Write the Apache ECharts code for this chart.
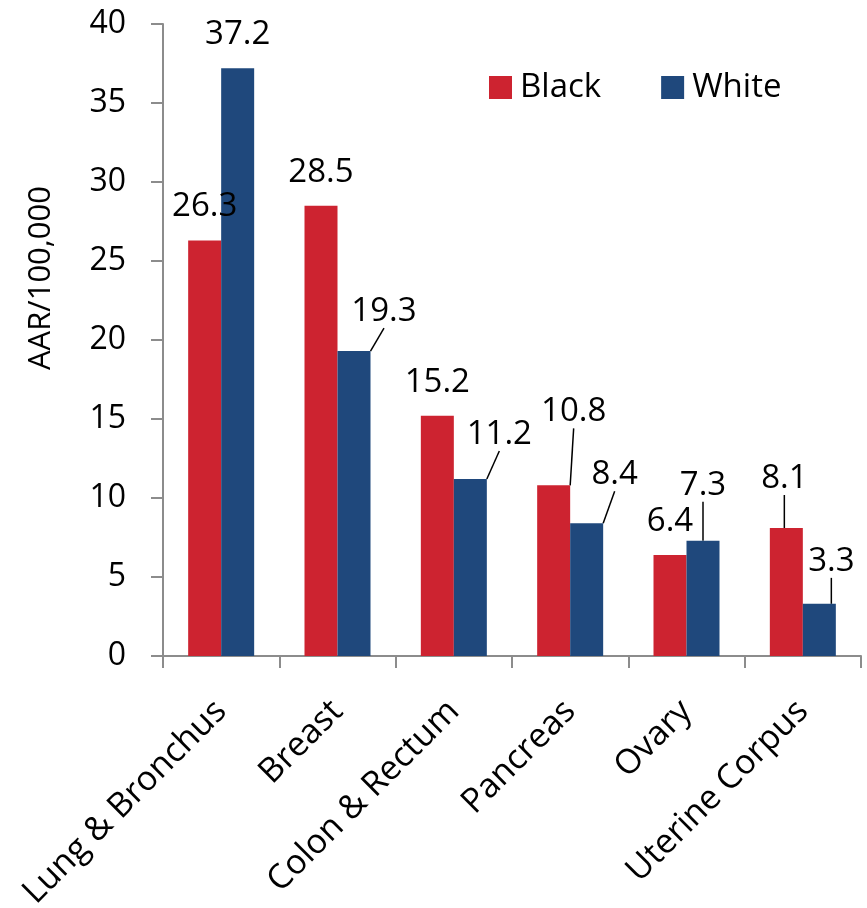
<!DOCTYPE html>
<html><head><meta charset="utf-8">
<script src="https://cdn.jsdelivr.net/npm/echarts@6/dist/echarts.min.js"></script>
<style>html,body{margin:0;padding:0;background:#fff}#c{width:867px;height:908px}</style>
</head><body><div id="c"></div>
<script>
// ---- data ----
const categories = ['Lung & Bronchus', 'Breast', 'Colon & Rectum', 'Pancreas', 'Ovary', 'Uterine Corpus'];
const blackValues = [26.3, 28.5, 15.2, 10.8, 6.4, 8.1];
const whiteValues = [37.2, 19.3, 11.2, 8.4, 7.3, 3.3];
const seriesNames = ['Black', 'White'];
const yAxisTitle = 'AAR/100,000';
const yMin = 0, yMax = 40, yStep = 5;

// ---- label displacement (styling only, pixels) ----
const blackLabelShift = [[0, 0], [0, 0], [0, 0], [20, -40], [0, 0], [-2, -16]];
const whiteLabelShift = [[0, 0], [30, -6], [29, -11], [28, -15], [0, -22], [12, -9]];

const FONT = 'Open Sans';
const RED = '#CD2330';
const BLUE = '#1F487C';
const AXIS = '#8C8C8C';

function makeData(values, shifts) {
  return values.map((v, i) => ({
    value: v,
    labelLine: { show: shifts[i][0] !== 0 || shifts[i][1] !== 0 }
  }));
}
function makeSeries(name, values, shifts, color) {
  return {
    name: name,
    type: 'bar',
    barWidth: 33,
    barGap: '0%',
    itemStyle: { color: color },
    data: makeData(values, shifts),
    label: {
      show: true, position: 'top', distance: 17,
      color: '#000', fontFamily: FONT, fontSize: 33
    },
    labelLine: { show: false, lineStyle: { color: '#000', width: 1.5 } },
    labelLayout: function (p) {
      const s = shifts[p.dataIndex];
      return { dx: s[0], dy: s[1] };
    }
  };
}

const chart = echarts.init(document.getElementById('c'), null, { renderer: 'canvas' });
chart.setOption({
  animation: false,
  backgroundColor: '#fff',
  textStyle: { fontFamily: FONT },
  grid: { left: 163, right: 6, top: 24, bottom: 252, outerBoundsMode: 'none', containLabel: false },
  legend: {
    data: seriesNames,
    left: 484, top: 66,
    icon: 'rect', itemWidth: 23, itemHeight: 23, itemGap: 60,
    textStyle: { fontFamily: FONT, fontSize: 33, color: '#000', padding: [0, 0, 0, 3] }
  },
  xAxis: {
    type: 'category',
    data: categories,
    axisLine: { lineStyle: { color: AXIS, width: 2 } },
    axisTick: { show: true, length: 12, lineStyle: { color: AXIS, width: 2 } },
    axisLabel: {
      rotate: 45, margin: 50, interval: 0,
      color: '#000', fontFamily: FONT, fontSize: 34
    }
  },
  yAxis: {
    type: 'value', min: yMin, max: yMax, interval: yStep,
    name: yAxisTitle, nameLocation: 'middle', nameGap: 106, nameRotate: 90,
    nameTextStyle: { color: '#000', fontFamily: FONT, fontSize: 31, padding: [0, 0, 0, 124] },
    axisLine: { show: true, lineStyle: { color: AXIS, width: 2 } },
    axisTick: { show: true, length: 12, lineStyle: { color: AXIS, width: 2 } },
    splitLine: { show: false },
    axisLabel: { margin: 37, color: '#000', fontFamily: FONT, fontSize: 32 }
  },
  series: [
    makeSeries(seriesNames[0], blackValues, blackLabelShift, RED),
    makeSeries(seriesNames[1], whiteValues, whiteLabelShift, BLUE)
  ]
});
</script></body></html>
